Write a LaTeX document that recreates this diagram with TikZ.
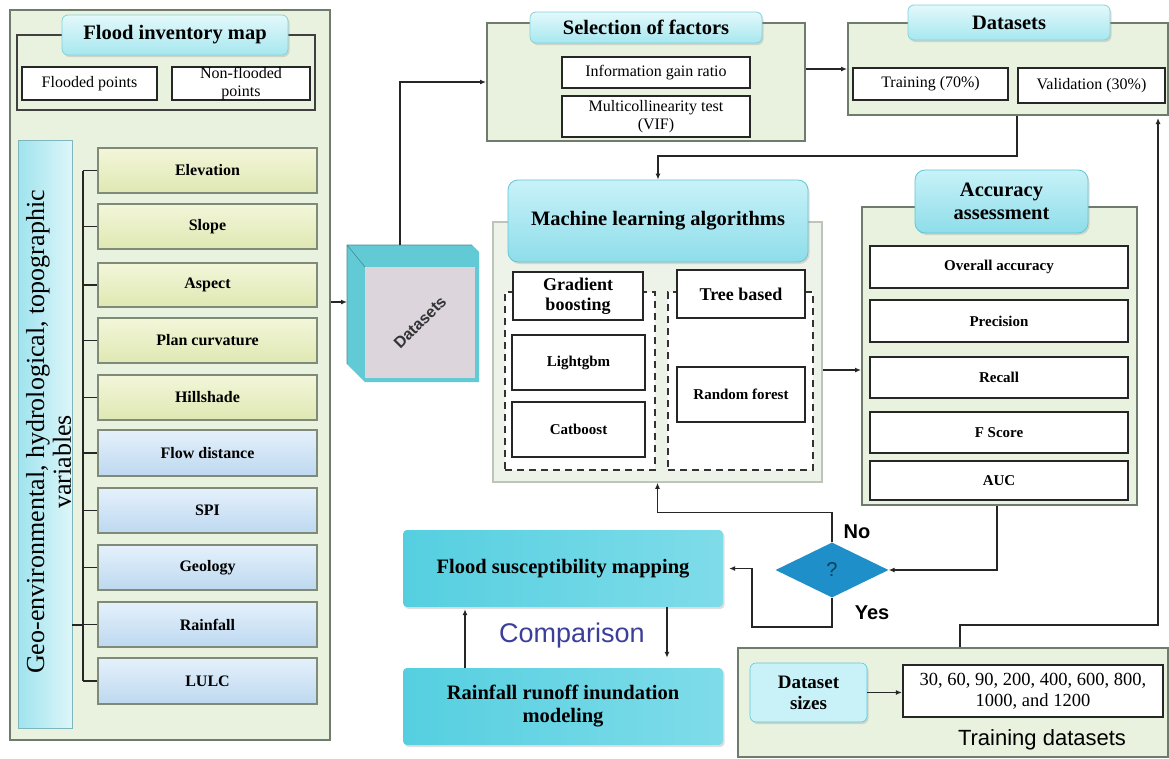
\documentclass[tikz,border=0pt]{standalone}
\usepackage{fontspec}
\setmainfont{Liberation Serif}
\setsansfont{Liberation Sans}
\usetikzlibrary{shapes.geometric,shadows,arrows.meta}

\definecolor{panelfill}{HTML}{E9F2DF}
\definecolor{panelline}{HTML}{6F7B6D}
\definecolor{hdrA}{HTML}{E3F9FB}
\definecolor{hdrB}{HTML}{A6E7EF}
\definecolor{hdrLine}{HTML}{86D2DC}
\definecolor{bigA}{HTML}{C8F2F8}
\definecolor{bigB}{HTML}{8EDDEA}
\definecolor{bigLine}{HTML}{62C6D4}
\definecolor{yelA}{HTML}{F3F6DA}
\definecolor{yelB}{HTML}{DFE8B2}
\definecolor{bluA}{HTML}{E5F1FB}
\definecolor{bluB}{HTML}{BDD8F0}
\definecolor{varline}{HTML}{7F8A78}
\definecolor{cyanA}{HTML}{55CFE0}
\definecolor{cyanB}{HTML}{7FDCE9}
\definecolor{diafill}{HTML}{1E8FC8}
\definecolor{compcol}{HTML}{3B3F9A}
\definecolor{cubeside}{HTML}{62CAD5}
\definecolor{cubefront}{HTML}{DCD6DC}
\definecolor{mlfill}{HTML}{EEF3EA}
\definecolor{mlline}{HTML}{BCC5B8}
\definecolor{geoA}{HTML}{9FE3EE}
\definecolor{geoB}{HTML}{DDF6F9}

\begin{document}
\begin{tikzpicture}[x=1pt,y=-1pt,
  corners/.style args={#1/#2/#3/#4}{minimum width={(#3)-(#1)}, minimum height={(#4)-(#2)},
     at={({((#1)+(#3))/2},{((#2)+(#4))/2})}},
  panel/.style={draw=panelline, line width=2pt, fill=panelfill, inner sep=0pt},
  frame/.style={draw=black!75, line width=1.8pt, inner sep=0pt},
  hdr/.style={draw=hdrLine, line width=0.8pt, rounded corners=6pt, top color=hdrA, bottom color=hdrB,
     inner sep=0pt, align=center, font=\fontsize{20.5}{23}\selectfont\bfseries,
     drop shadow={shadow xshift=1.5pt, shadow yshift=-2pt, opacity=0.25}},
  bighdr/.style={hdr, draw=bigLine, rounded corners=10pt, top color=bigA, bottom color=bigB},
  wbox/.style={draw=black!85, line width=1.8pt, fill=white, inner sep=0pt, align=center},
  t16/.style={font=\fontsize{16}{18}\selectfont},
  t15b/.style={font=\fontsize{15}{17}\selectfont\bfseries},
  t18b/.style={font=\fontsize{18}{20}\selectfont\bfseries},
  varbox/.style={draw=varline, line width=1.6pt, inner sep=0pt, font=\fontsize{16}{18}\selectfont\bfseries},
  varY/.style={varbox, top color=yelA, bottom color=yelB},
  varB/.style={varbox, top color=bluA, bottom color=bluB},
  cbox/.style={left color=cyanA, right color=cyanB, rounded corners=4pt, inner sep=0pt, align=center,
     font=\fontsize{20.5}{23}\selectfont\bfseries,
     drop shadow={shadow xshift=1.5pt, shadow yshift=-2pt, opacity=0.25}},
  dsbox/.style={fill=bigA, draw=bigLine, line width=0.6pt, rounded corners=6pt, inner sep=0pt, align=center,
     font=\fontsize{19}{21}\selectfont\bfseries,
     drop shadow={shadow xshift=1.5pt, shadow yshift=-2pt, opacity=0.25}},
  dashbox/.style={draw=black!80, line width=2pt, dash pattern=on 7pt off 5pt, fill=white, inner sep=0pt},
  ln/.style={line width=1.6pt, draw=black!85},
  arr/.style={ln, -{Latex[length=6pt,width=5pt]}},
  lbl/.style={font=\sffamily\bfseries\fontsize{20}{20}\selectfont},
  geofont/.style={rotate=90, font=\fontsize{26}{26}\selectfont}
]
\useasboundingbox[fill=white] (0,0) rectangle (1169,758);

% ---------------- left panel ----------------
\node[panel, line width=2.5pt, corners=10/10/330/740] (lp) {};
\node[frame, corners=17/35/315/110] (fframe) {};
\node[hdr, corners=62/15/288/55] (fim) {Flood inventory map};
\node[wbox, t16, corners=22/67/157/100] (fp) {Flooded points};
\node[wbox, t16, corners=172/67/310/100] (nfp) {Non-flooded\\points};

\node[left color=geoA, right color=geoB, draw=geoA!80!black, line width=0.6pt, inner sep=0pt,
      corners=18/140/72/728] (geo) {};
\node[geofont] (geotxt) at (38,432) {Geo-environmental, hydrological, topographic};
\node[geofont] (geotxtb) at (62,462) {variables};

\foreach \n/\t/\a/\b in {1/Elevation/148/193, 2/Slope/204/249, 3/Aspect/263/307,
   4/Plan curvature/318/363, 5/Hillshade/375/420}
  \node[varY, corners=98/\a/317/\b] (v\n) {\t};
\foreach \n/\t/\a/\b in {6/Flow distance/430/476, 7/SPI/488/533, 8/Geology/545/590,
   9/Rainfall/602/647, 10/LULC/658/704}
  \node[varB, corners=98/\a/317/\b] (v\n) {\t};

\coordinate (bx) at (83,0);
\coordinate (gt) at (0,625);
\foreach \i in {1,...,10} \draw[ln] (v\i.west) -- (v\i.west -| bx);
\draw[ln] (v1.west -| bx) -- (v10.west -| bx);
\draw[ln] (geo.east |- gt) -- (bx |- gt);

% ---------------- cube ----------------
\fill[cubeside] (347,245) -- (472,245) -- (479,252) -- (479,382) -- (365,382) -- (347,364) -- cycle;
\draw[cubeside!70!black, line width=0.6pt] (347,245) -- (365,267) (347,364) -- (347,245) -- (472,245);
\node[fill=cubefront, inner sep=0pt, corners=365/267/475/378] (cube) {};
\node[rotate=45, font=\sffamily\bfseries\fontsize{16}{16}\selectfont, text=black!80] (cubetxt) at (cube.center) {Datasets};
\coordinate (cl) at (347,302);
\coordinate (ct) at (400,245);
\draw[arr] (lp.east |- cl) -- (cl);

% ---------------- selection of factors ----------------
\node[panel, corners=487/23/805/141] (sp) {};
\node[hdr, corners=530/12/762/43] (sfh) {Selection of factors};
\node[wbox, t16, corners=562/57/750/88] (igr) {Information gain ratio};
\node[wbox, t16, corners=562/96/750/137] (vif) {Multicollinearity test\\(VIF)};
\draw[arr] (ct) |- (sp.west);

% ---------------- datasets ----------------
\node[panel, corners=848/23/1168/115] (dsp) {};
\node[hdr, corners=908/5/1110/40] (dsh) {Datasets};
\node[wbox, t16, corners=853/68/1008/100] (tr) {Training (70\%)};
\node[wbox, t16, corners=1018/68/1165/103] (va) {Validation (30\%)};
\draw[arr] (sp.east |- dsp.west) -- (dsp.west);

% ---------------- machine learning ----------------
\node[draw=mlline, line width=1.5pt, fill=mlfill, inner sep=0pt, corners=493/222/822/482] (mlp) {};
\node[bighdr, corners=508/180/808/262] (mlh) {Machine learning algorithms};
\node[dashbox, corners=505/292/655/470] (dl) {};
\node[dashbox, corners=668/292/813/470] (dr) {};
\node[wbox, t18b, corners=513/272/643/320] (gb) {Gradient\\boosting};
\node[wbox, t15b, corners=512/335/645/390] (lg) {Lightgbm};
\node[wbox, t15b, corners=512/402/645/457] (cb) {Catboost};
\node[wbox, t18b, corners=677/270/805/318] (tb) {Tree based};
\node[wbox, t15b, corners=677/367/805/422] (rf) {Random forest};

\coordinate (vx) at (1017,0);
\draw[arr] (dsp.south -| vx) -- ++(0,40) -| (mlh.north);

% ---------------- accuracy ----------------
\node[panel, corners=862/207/1137/505] (accp) {};
\node[bighdr, corners=915/170/1088/233] (acch) {Accuracy\\assessment};
\node[wbox, t15b, corners=870/246/1128/288] (oa) {Overall accuracy};
\node[wbox, t15b, corners=870/300/1128/342] (pr) {Precision};
\node[wbox, t15b, corners=870/357/1128/398] (re) {Recall};
\node[wbox, t15b, corners=870/412/1128/453] (fs) {F Score};
\node[wbox, t15b, corners=870/461/1128/500] (auc) {AUC};

\coordinate (my) at (0,370);
\draw[arr] (mlp.east |- my) -- (accp.west |- my);

% ---------------- decision ----------------
\node[diamond, aspect=2, fill=diafill, minimum width=113pt, minimum height=55pt, inner sep=0pt,
      text=diafill!45!black, font=\sffamily\fontsize{20}{20}\selectfont] (dia) at (832,570) {?};
\node[lbl] (nol) at (857,532) {No};
\node[lbl] (yesl) at (872,613) {Yes};

\coordinate (ax) at (997,0);
\draw[arr] (accp.south -| ax) |- (dia.east);
\draw[arr] (dia.north) -- ++(0,-30) -| (mlp.south);

% ---------------- mapping / modeling ----------------
\node[cbox, corners=403/530/723/607] (fsm) {Flood susceptibility mapping};
\node[cbox, corners=403/668/723/745] (rr) {Rainfall runoff inundation\\modeling};
\node[font=\sffamily\fontsize{27}{27}\selectfont, text=compcol] (cmp) at (572,636) {Comparison};

\coordinate (yx) at (752,627);
\draw[arr, shorten >=6pt] (dia.south) |- (yx) |- (fsm.east);
\coordinate (ux) at (465,0);
\coordinate (dx) at (667,0);
\draw[arr, shorten >=2pt] (rr.north -| ux) -- (fsm.south -| ux);
\draw[arr, shorten >=10pt] (fsm.south -| dx) -- (rr.north -| dx);

% ---------------- training datasets ----------------
\node[panel, corners=738/648/1168/757] (tp) {};
\node[dsbox, corners=750/663/867/722] (dsz) {Dataset\\sizes};
\node[wbox, line width=2.2pt, font=\fontsize{18.5}{21}\selectfont, corners=903/665/1163/717] (nums)
  {30, 60, 90, 200, 400, 600, 800,\\1000, and 1200};
\node[font=\sffamily\fontsize{22}{22}\selectfont] (tdl) at (1042,740) {Training datasets};
\draw[arr] (dsz.east) -- (dsz.east -| nums.west);

\coordinate (tx) at (960,0);
\coordinate (rx) at (1158,625);
\draw[arr, shorten >=2pt] (tp.north -| tx) |- (rx) -- (dsp.south -| rx);
\end{tikzpicture}
\end{document}
